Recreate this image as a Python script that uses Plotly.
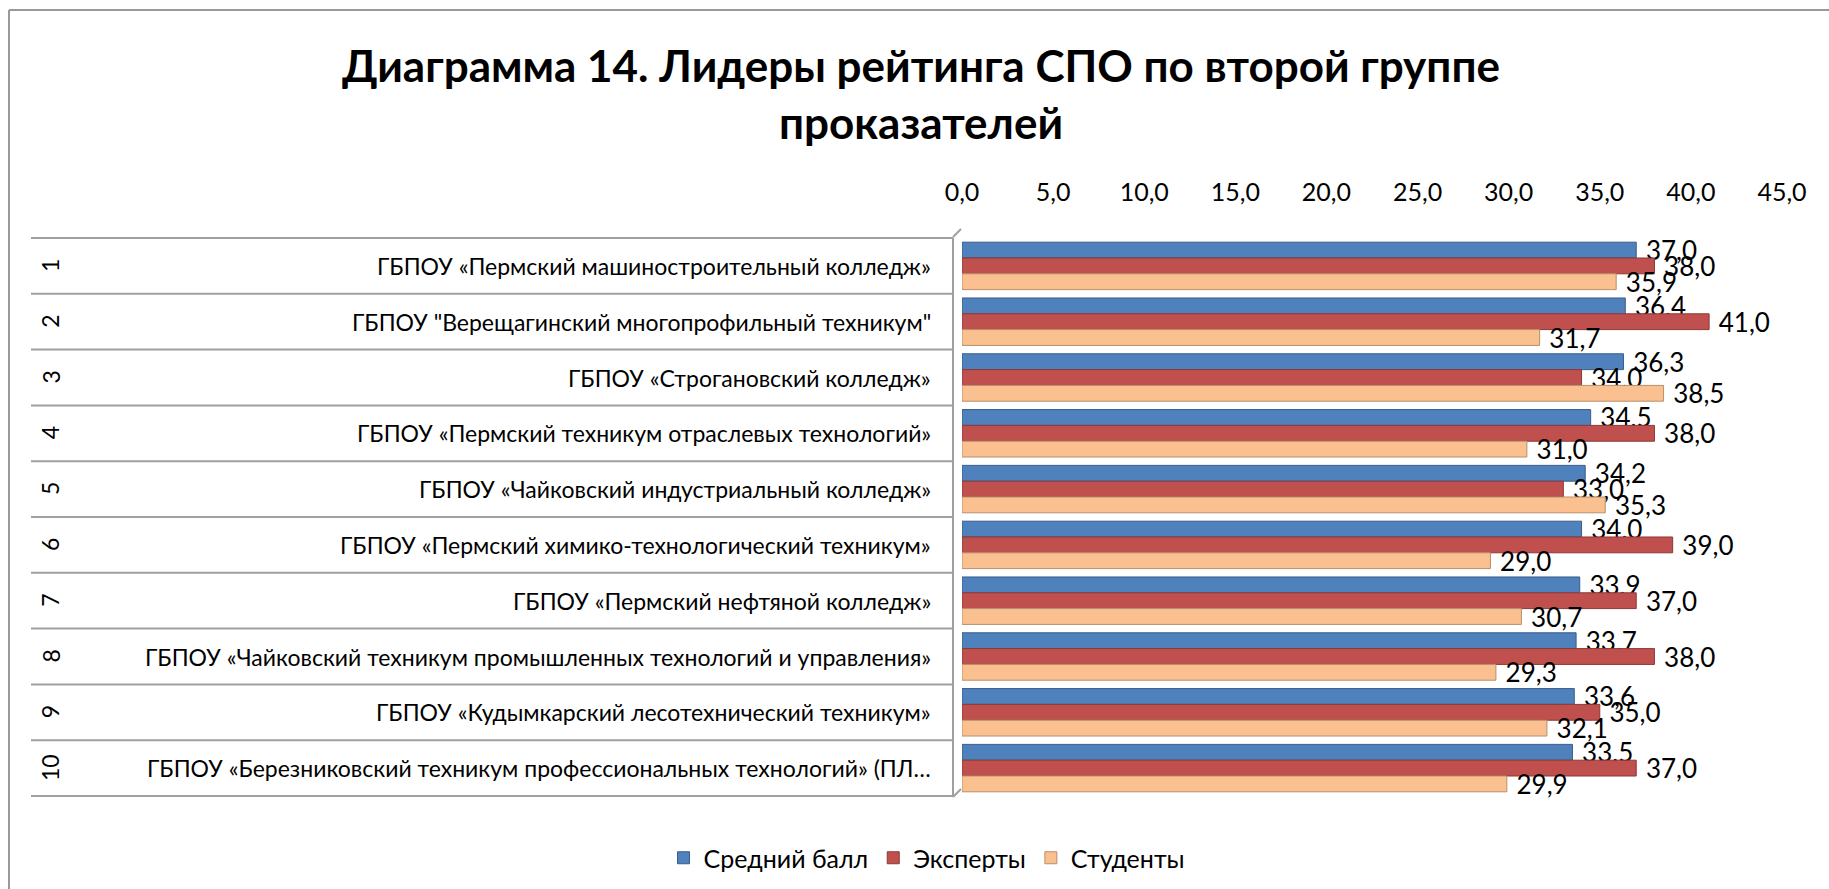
import plotly.graph_objects as go

W, H = 1829, 889

ranks = ["1", "2", "3", "4", "5", "6", "7", "8", "9", "10"]
names = [
    "ГБПОУ «Пермский машиностроительный колледж»",
    "ГБПОУ \"Верещагинский многопрофильный техникум\"",
    "ГБПОУ «Строгановский колледж»",
    "ГБПОУ «Пермский техникум отраслевых технологий»",
    "ГБПОУ «Чайковский индустриальный колледж»",
    "ГБПОУ «Пермский химико-технологический техникум»",
    "ГБПОУ «Пермский нефтяной колледж»",
    "ГБПОУ «Чайковский техникум промышленных технологий и управления»",
    "ГБПОУ «Кудымкарский лесотехнический техникум»",
    "ГБПОУ «Березниковский техникум профессиональных технологий» (ПЛ…",
]
avg_score = [37.0, 36.4, 36.3, 34.5, 34.2, 34.0, 33.9, 33.7, 33.6, 33.5]
experts = [38.0, 41.0, 34.0, 38.0, 33.0, 39.0, 37.0, 38.0, 35.0, 37.0]
students = [35.9, 31.7, 38.5, 31.0, 35.3, 29.0, 30.7, 29.3, 32.1, 29.9]

series = [
    ("Средний балл", avg_score, "#4F81BD", "#385D8A"),
    ("Эксперты", experts, "#C0504D", "#8C3836"),
    ("Студенты", students, "#FAC090", "#B98F6B"),
]

FONT = "Lato"
fs = 23

fig = go.Figure()
for name, vals, col, edge in series:
    fig.add_trace(go.Bar(
        y=ranks, x=vals, orientation="h", name=name,
        marker=dict(color=col, line=dict(color=edge, width=1)),
        texttemplate=" %{x:.1f}", textposition="outside",
        constraintext="none", cliponaxis=False,
        textfont=dict(family=FONT, size=26, color="#000000"),
    ))

def px(x):
    return x / W

def py(y):
    return 1 - y / H

x0p, x1p = 962, 1782
ytop, ybot = 237, 797

shapes = []
# chart border
shapes.append(dict(type="line", xref="paper", yref="paper", x0=px(9), x1=1.01, y0=py(10), y1=py(10),
                   line=dict(color="#999999", width=2)))
shapes.append(dict(type="line", xref="paper", yref="paper", x0=px(9), x1=px(9), y0=py(10), y1=-0.01,
                   line=dict(color="#999999", width=2)))
# row separators
for i in range(len(ranks) + 1):
    shapes.append(dict(type="line", xref="paper", yref="y", x0=px(31), x1=px(953), y0=i - 0.5, y1=i - 0.5,
                       line=dict(color="#A0A0A0", width=2)))
# wall
shapes.append(dict(type="line", xref="paper", yref="y", x0=px(953), x1=px(953), y0=-0.5, y1=len(ranks) - 0.5,
                   line=dict(color="#A0A0A0", width=2)))
shapes.append(dict(type="line", xref="paper", yref="paper", x0=px(953), x1=px(961), y0=py(ytop), y1=py(ytop - 8),
                   line=dict(color="#A0A0A0", width=2)))
shapes.append(dict(type="line", xref="paper", yref="paper", x0=px(953), x1=px(961), y0=py(ybot), y1=py(ybot - 8),
                   line=dict(color="#A0A0A0", width=2)))

annotations = []
for i, (r, n) in enumerate(zip(ranks, names)):
    annotations.append(dict(xref="paper", yref="y", x=px(933), y=i, text=n, showarrow=False,
                            xanchor="right", yanchor="middle",
                            font=dict(family=FONT, size=fs, color="#000000")))
    annotations.append(dict(xref="paper", yref="y", x=px(50), y=i, text=r, showarrow=False,
                            xanchor="center", yanchor="middle", textangle=-90,
                            font=dict(family=FONT, size=fs, color="#000000")))

fig.update_layout(
    width=W, height=H, autosize=False,
    margin=dict(l=0, r=0, t=0, b=0, pad=0, autoexpand=False),
    paper_bgcolor="white", plot_bgcolor="white",
    separators=", ",
    barmode="group", bargap=0.15, bargroupgap=0,
    title=dict(text="<b>Диаграмма 14. Лидеры рейтинга СПО по второй группе<br>проказателей</b>",
               x=px(921), xanchor="center", y=py(82), yanchor="middle",
               font=dict(family=FONT, size=44, color="#000000")),
    xaxis=dict(domain=[px(x0p), px(x1p)], range=[0, 45], side="top", dtick=5, tick0=0,
               tickformat=".1f", showgrid=False, zeroline=False, showline=False,
               ticks="", ticklabelstandoff=30, automargin=False,
               tickfont=dict(family=FONT, size=25, color="#000000")),
    yaxis=dict(domain=[py(ybot), py(ytop)], autorange="reversed", showticklabels=False,
               showgrid=False, zeroline=False, showline=False, ticks="", automargin=False),
    legend=dict(orientation="h", x=px(927), xanchor="center", y=py(858), yanchor="middle",
                font=dict(family=FONT, size=25, color="#000000"), traceorder="normal",
                itemwidth=30),
    shapes=shapes, annotations=annotations,
    showlegend=True,
)

fig.write_html("out.html",
               post_script="document.body.style.margin='0';document.body.style.overflow='hidden';")
